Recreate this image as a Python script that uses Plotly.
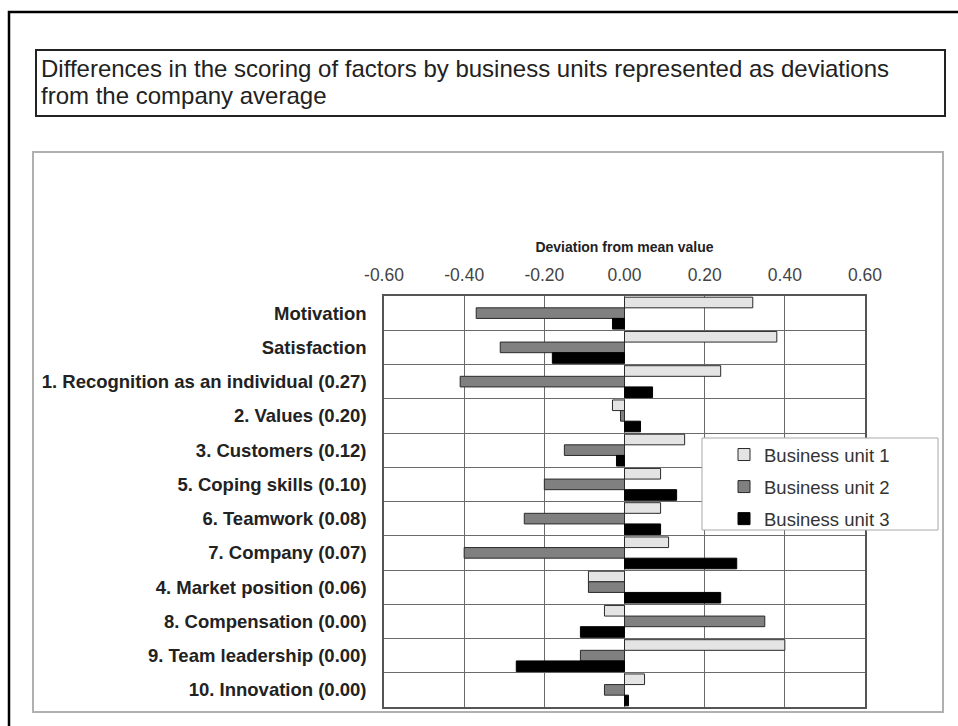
import plotly.graph_objects as go

# Factors (top to bottom) and deviation of each business unit from the company mean
factors = [
    "Motivation",
    "Satisfaction",
    "1. Recognition as an individual (0.27)",
    "2. Values (0.20)",
    "3. Customers (0.12)",
    "5. Coping skills (0.10)",
    "6. Teamwork (0.08)",
    "7. Company (0.07)",
    "4. Market position (0.06)",
    "8. Compensation (0.00)",
    "9. Team leadership (0.00)",
    "10. Innovation (0.00)",
]
unit1 = [0.32, 0.38, 0.24, -0.03, 0.15, 0.09, 0.09, 0.11, -0.09, -0.05, 0.40, 0.05]
unit2 = [-0.37, -0.31, -0.41, -0.01, -0.15, -0.20, -0.25, -0.40, -0.09, 0.35, -0.11, -0.05]
unit3 = [-0.03, -0.18, 0.07, 0.04, -0.02, 0.13, 0.09, 0.28, 0.24, -0.11, -0.27, 0.01]
series_names = ["Business unit 1", "Business unit 2", "Business unit 3"]

tick_values = [-0.6, -0.4, -0.2, 0.0, 0.2, 0.4, 0.6]
tick_labels = ["-0.60", "-0.40", "-0.20", "0.00", "0.20", "0.40", "0.60"]

FONT = "Arial, 'Liberation Sans', sans-serif"
W, H = 958, 726
PL, PR, PT, PB = 384, 865, 296, 707  # plot-area edges in pixels


def fx(px):
    return (px - PL) / (PR - PL)


def fy(py):
    return (PB - py) / (PB - PT)


fills = ["#e4e4e4", "#808080", "#000000"]
outlines = ["#2a2a2a", "#2a2a2a", "#000000"]

fig = go.Figure()
for i, (name, vals) in enumerate(zip(series_names, [unit1, unit2, unit3])):
    fig.add_trace(go.Bar(
        y=factors, x=vals, orientation="h", name=name,
        legendgroup=name,
        marker=dict(color=fills[i], line=dict(color=outlines[i], width=1)),
    ))

fig.update_layout(
    width=W, height=H,
    margin=dict(l=PL, r=W - PR, t=PT, b=H - PB, pad=0),
    paper_bgcolor="white", plot_bgcolor="white",
    barmode="group", bargap=0.07, bargroupgap=0,
    font=dict(family=FONT, color="#222"),
    showlegend=True,
    legend=dict(
        x=fx(724), y=fy(436), xanchor="left", yanchor="top",
        bgcolor="rgba(0,0,0,0)", borderwidth=0,
        font=dict(family=FONT, size=18.5, color="#333"),
        traceorder="grouped", tracegroupgap=5,
    ),
    xaxis=dict(
        side="top", range=[-0.6, 0.6],
        tickmode="array", tickvals=tick_values, ticktext=tick_labels,
        tickfont=dict(family=FONT, size=17.5, color="#444"),
        ticks="", ticklabelstandoff=6,
        showgrid=True, gridcolor="#6a6a6a", gridwidth=1,
        zeroline=False,
        showline=True, mirror=True, linecolor="#555", linewidth=1.5,
        title=dict(text="Deviation from mean value",
                   font=dict(family=FONT, size=14, weight="bold", color="#222"),
                   standoff=9),
        fixedrange=True,
    ),
    yaxis=dict(
        type="category", autorange="reversed",
        tickson="boundaries", ticks="",
        tickfont=dict(family=FONT, size=18.5, weight="bold", color="#222"),
        ticklabelstandoff=12,
        showgrid=True, gridcolor="#6a6a6a", gridwidth=1,
        showline=True, mirror=True, linecolor="#555", linewidth=1.5,
        fixedrange=True,
    ),
)

shapes = [
    # outer frame (runs off the right and bottom edges)
    dict(type="rect", xref="paper", yref="paper",
         x0=fx(9), y0=fy(12), x1=fx(1010), y1=fy(780),
         line=dict(color="black", width=2.5), layer="above"),
    # title box
    dict(type="rect", xref="paper", yref="paper",
         x0=fx(36), y0=fy(50), x1=fx(945), y1=fy(116),
         line=dict(color="#222", width=2), layer="above"),
    # chart area
    dict(type="rect", xref="paper", yref="paper",
         x0=fx(33), y0=fy(152), x1=fx(943), y1=fy(712),
         line=dict(color="#b0b0b0", width=2), layer="below"),
    # legend panel
    dict(type="rect", xref="paper", yref="paper",
         x0=fx(702), y0=fy(438), x1=fx(938), y1=fy(530),
         fillcolor="white", line=dict(color="#a8a8a8", width=1), layer="above"),
]
fig.update_layout(shapes=shapes)

title_lines = [
    "Differences in the scoring of factors by business units represented as deviations",
    "from the company average",
]
for line, ypx in zip(title_lines, [68, 95]):
    fig.add_annotation(
        xref="paper", yref="paper", x=fx(39), y=fy(ypx),
        xanchor="left", yanchor="middle", showarrow=False,
        text=line, font=dict(family=FONT, size=24, color="#222"),
    )

fig.write_html("out.html")
